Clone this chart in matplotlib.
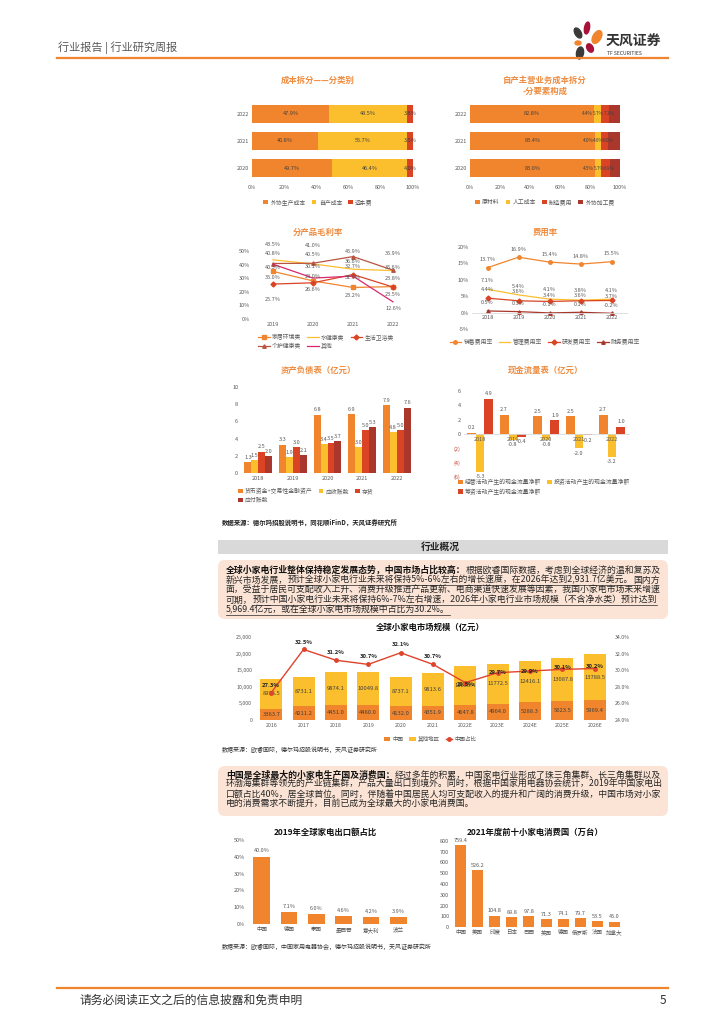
import matplotlib
matplotlib.use('Agg')
import matplotlib.pyplot as plt
from matplotlib.patches import Rectangle, FancyBboxPatch, Ellipse, Patch
from matplotlib.lines import Line2D
import numpy as np

plt.rcParams['font.family'] = ['Noto Sans CJK SC', 'DejaVu Sans']

# ---- data ----
cost_years = ['2022', '2021', '2020']
cost_outsourced = [47.9, 40.8, 49.7]
cost_self = [48.5, 55.7, 46.4]
cost_freight = [3.6, 3.5, 4.0]

elem_material = [82.8, 83.4, 83.0]
elem_labor = [4.4, 4.0, 4.5]
elem_manufacture = [5.7, 4.6, 5.7]
elem_outsource = [7.1, 8.0, 6.9]

margin_years = ['2019', '2020', '2021', '2022']
margin_home = [35.0, 28.0, 23.2, 23.8]
margin_water = [43.5, 40.5, 36.6, 35.6]
margin_bath = [25.7, 26.6, 32.7, 23.5]
margin_care = [40.8, 41.0, 45.9, 35.9]
margin_other = [40.3, 30.1, 31.5, 12.6]

fee_years = ['2018', '2019', '2020', '2021', '2022']
fee_sales = [13.7, 16.9, 15.4, 14.8, 15.5]
fee_admin = [7.1, 5.4, 4.1, 3.8, 4.1]
fee_rd = [4.4, 3.6, 3.4, 3.6, 3.7]
fee_fin = [0.5, 0.3, -0.1, 0.1, -0.2]

bs_years = ['2018', '2019', '2020', '2021', '2022']
bs_cash = [1.3, 3.3, 6.8, 6.9, 7.9]
bs_recv = [1.5, 1.9, 3.4, 3.0, 4.8]
bs_inv = [2.5, 3.0, 3.5, 5.0, 5.0]
bs_pay = [2.0, 2.1, 3.7, 5.3, 7.6]

cf_years = ['2018', '2019', '2020', '2021', '2022']
cf_oper = [0.2, 2.7, 2.5, 2.5, 2.7]
cf_invest = [-5.3, -0.8, -0.8, -2.0, -3.2]
cf_fin = [4.9, -0.4, 1.9, -0.2, 1.0]

mkt_years = ['2016', '2017', '2018', '2019', '2020', '2021', '2022E', '2023E', '2024E', '2025E', '2026E']
mkt_china = [3363.7, 4211.2, 4451.0, 4460.0, 4132.0, 4351.9, 4647.8, 4964.0, 5288.3, 5623.5, 5969.4]
mkt_other = [8976.5, 8731.1, 9874.1, 10049.8, 8737.1, 9813.6, 11658.4, 11772.5, 12416.1, 13087.8, 13788.5]
mkt_share = [27.3, 32.5, 31.2, 30.7, 32.1, 30.7, 28.5, 29.7, 29.9, 30.1, 30.2]

export_countries = ['中国', '德国', '泰国', '墨西哥', '意大利', '波兰']
export_share = [40.0, 7.1, 6.0, 4.6, 4.2, 3.9]

consume_countries = ['中国', '美国', '印度', '日本', '巴西', '英国', '德国', '俄罗斯', '法国', '加拿大']
consume_units = [759.4, 526.2, 104.8, 89.8, 97.8, 71.3, 74.1, 79.7, 53.5, 45.0]

ORANGE = '#F0852D'
YELLOW = '#FBBF2E'
RED = '#DA4425'
DARK = '#A9372C'
BROWN = '#B8543F'
PINK = '#D8286E'
TITLE = '#EE8B3E'
GRAY = '#595959'
TXT = '#404040'

W, H = 724, 1024
fig = plt.figure(figsize=(7.24, 10.24), dpi=100)

bg = fig.add_axes([0, 0, 1, 1])
bg.set_xlim(0, W)
bg.set_ylim(H, 0)
bg.axis('off')
bg.set_zorder(-1)


def add_ax(l, t, r, b):
    ax = fig.add_axes([l / W, 1 - b / H, (r - l) / W, (b - t) / H])
    ax.set_facecolor('none')
    ax.tick_params(length=0, labelsize=4, labelcolor=GRAY, pad=2)
    for s in ax.spines.values():
        s.set_visible(False)
    return ax


def px(v):
    return v * 0.72


def legend_at(handles, labels, x, y, loc, ncol, size=4.2, hl=0.8):
    fig.legend(handles, labels, loc=loc, bbox_to_anchor=(x / W, 1 - y / H), ncol=ncol,
               frameon=False, fontsize=size, handlelength=hl, handleheight=0.7,
               columnspacing=1.0, handletextpad=0.4, borderpad=0, borderaxespad=0,
               labelspacing=0.5, labelcolor=GRAY)


def sq(c):
    return Patch(facecolor=c, edgecolor='none')


def ln(c, m):
    return Line2D([0], [0], color=c, lw=0.9, marker=m, markersize=2.5)


# ---- header / footer ----
bg.text(58, 48, '行业报告 | 行业研究周报', fontsize=8, color=GRAY, va='center')
bg.plot([57, 668], [57.5, 57.5], color=ORANGE, lw=1.6)
bg.add_patch(Ellipse((578, 33), 6, 11, angle=-30, color='#3A3A3A'))
bg.add_patch(Ellipse((587, 28), 5, 12, angle=10, color='#A8123A'))
bg.add_patch(Ellipse((597, 37), 8, 14, angle=30, color=ORANGE))
bg.add_patch(Ellipse((578, 43), 6, 4, angle=0, color=ORANGE))
bg.add_patch(Ellipse((580, 53), 7, 12, angle=10, color='#3A3A3A'))
bg.add_patch(Ellipse((590, 48), 6, 9, angle=-30, color='#A8123A'))
bg.text(606, 42, '天风证券', fontsize=10, fontweight='bold', color='#333333', va='center')
bg.text(607, 53.5, 'TF SECURITIES', fontsize=3.6, color='#333333', va='center')
bg.plot([57, 668], [988, 988], color=ORANGE, lw=1.6)
bg.text(80, 1000, '请务必阅读正文之后的信息披露和免责申明', fontsize=8.5, color='#333333', va='center')
bg.text(660, 1000, '5', fontsize=8.5, color='#333333', va='center')

# ---- chart 1: cost by category ----
bg.text(318, 80, '成本拆分——分类别', fontsize=6, fontweight='bold', color=TITLE, ha='center', va='center')
ax1 = add_ax(252, 100, 413, 182)
yy = np.array([2, 1, 0])
left = np.zeros(3)
for vals, c in [(cost_outsourced, ORANGE), (cost_self, YELLOW), (cost_freight, RED)]:
    ax1.barh(yy, vals, left=left, color=c, height=0.65)
    for y, v, l0 in zip(yy, vals, left):
        ax1.text(l0 + v / 2, y, f'{v:.1f}%', ha='center', va='center', fontsize=4, color=TXT)
    left = left + np.array(vals)
ax1.set_xlim(0, 100)
ax1.set_ylim(-0.5, 2.5)
ax1.set_yticks(yy)
ax1.set_yticklabels(cost_years)
ax1.set_xticks(range(0, 101, 20))
ax1.set_xticklabels([f'{v}%' for v in range(0, 101, 20)])
legend_at([sq(ORANGE), sq(YELLOW), sq(RED)], ['外协生产成本', '自产成本', '运杂费'], 318, 202, 'center', 3)

# ---- chart 2: cost by element ----
bg.text(545, 80, '自产主营业务成本拆分', fontsize=6, fontweight='bold', color=TITLE, ha='center', va='center')
bg.text(545, 91, '-分要素构成', fontsize=6, fontweight='bold', color=TITLE, ha='center', va='center')
ax2 = add_ax(470, 100, 620, 182)
left = np.zeros(3)
shifts2 = [0, -6.7, -4.4, -3.6]
for k, (vals, c) in enumerate([(elem_material, ORANGE), (elem_labor, YELLOW),
                               (elem_manufacture, RED), (elem_outsource, DARK)]):
    ax2.barh(yy, vals, left=left, color=c, height=0.65)
    for y, v, l0 in zip(yy, vals, left):
        ax2.text(l0 + v / 2 + shifts2[k], y, f'{v:.1f}%', ha='center', va='center',
                 fontsize=4 if k == 0 else 3.4, color=TXT)
    left = left + np.array(vals)
ax2.set_xlim(0, 100)
ax2.set_ylim(-0.5, 2.5)
ax2.set_yticks(yy)
ax2.set_yticklabels(cost_years)
ax2.set_xticks(range(0, 101, 20))
ax2.set_xticklabels([f'{v}%' for v in range(0, 101, 20)])
legend_at([sq(ORANGE), sq(YELLOW), sq(RED), sq(DARK)], ['原材料', '人工成本', '制造费用', '外协加工费'],
          545, 202, 'center', 4)

# ---- chart 3: gross margin ----
bg.text(318, 232, '分产品毛利率', fontsize=6, fontweight='bold', color=TITLE, ha='center', va='center')
ax3 = add_ax(253, 251, 413, 319)
xm = np.arange(len(margin_years))
series3 = [
    ('家居环境类', margin_home, ORANGE, 's', [-6, 4, -8, 8]),
    ('水健康类', margin_water, YELLOW, None, [15, 9, 8, 3]),
    ('生活卫浴类', margin_bath, RED, 'D', [-15, -7, 8, -7]),
    ('个护健康类', margin_care, BROWN, '^', [10, 18, 5, 17]),
    ('其他', margin_other, PINK, None, [-3, 12, -1, -7]),
]
handles3 = {}
for name, vals, c, m, offs in series3:
    ax3.plot(xm, vals, color=c, lw=0.9, marker=m, markersize=2.5)
    handles3[name] = ln(c, m)
    for x, v, o in zip(xm, vals, offs):
        ax3.annotate(f'{v:.1f}%', (x, v), xytext=(0, px(o)), textcoords='offset points',
                     ha='center', va='center', fontsize=4, color=GRAY)
ax3.set_xlim(-0.5, 3.5)
ax3.set_ylim(0, 50)
ax3.set_yticks(range(0, 51, 10))
ax3.set_yticklabels([f'{v}%' for v in range(0, 51, 10)])
ax3.set_xticks(xm)
ax3.set_xticklabels(margin_years)
ax3.axhline(0, color='#D9D9D9', lw=0.6)
order3 = ['家居环境类', '个护健康类', '水健康类', '其他', '生活卫浴类']
legend_at([handles3[k] for k in order3], order3, 258, 334, 'upper left', 3, hl=2)

# ---- chart 4: expense ratios ----
bg.text(545, 232, '费用率', fontsize=6, fontweight='bold', color=TITLE, ha='center', va='center')
ax4 = add_ax(472, 247, 627, 329)
xf = np.arange(len(fee_years))
series4 = [
    ('销售费用率', fee_sales, ORANGE, 'o', [8, 8, 8, 8, 8]),
    ('管理费用率', fee_admin, YELLOW, None, [9, 8, 9.5, 9.5, 8.5]),
    ('研发费用率', fee_rd, RED, 'D', [8.5, 9, 6, 5, 4]),
    ('财务费用率', fee_fin, DARK, '^', [8, 8, 8, 8, 8]),
]
h4 = []
for name, vals, c, m, offs in series4:
    ax4.plot(xf, vals, color=c, lw=0.9, marker=m, markersize=2.5)
    h4.append(ln(c, m))
    for x, v, o in zip(xf, vals, offs):
        ax4.annotate(f'{v:.1f}%', (x, v), xytext=(0, px(o)), textcoords='offset points',
                     ha='center', va='center', fontsize=4, color=GRAY)
ax4.set_xlim(-0.5, 4.5)
ax4.set_ylim(-5, 20)
ax4.set_yticks(range(-5, 21, 5))
ax4.set_yticklabels([f'{v}%' for v in range(-5, 21, 5)])
ax4.set_xticks(xf)
ax4.set_xticklabels(fee_years)
ax4.spines['bottom'].set_visible(True)
ax4.spines['bottom'].set_position(('data', 0))
ax4.spines['bottom'].set_color('#D9D9D9')
ax4.spines['bottom'].set_linewidth(0.6)
legend_at(h4, [s[0] for s in series4], 545, 342, 'center', 4, hl=2)

# ---- chart 5: balance sheet ----
bg.text(318, 370, '资产负债表（亿元）', fontsize=6, fontweight='bold', color=TITLE, ha='center', va='center')
ax5 = add_ax(241, 387, 414, 473)
xb = np.arange(len(bs_years))
bw = 0.2
for i, (vals, c) in enumerate([(bs_cash, ORANGE), (bs_recv, YELLOW), (bs_inv, RED), (bs_pay, DARK)]):
    xs = xb + (i - 1.5) * bw
    ax5.bar(xs, vals, width=bw, color=c)
    for x, v in zip(xs, vals):
        ax5.text(x, v + 0.25, f'{v:.1f}', ha='center', va='bottom', fontsize=4, color=GRAY)
ax5.set_xlim(-0.5, 4.5)
ax5.set_ylim(0, 10)
ax5.set_yticks(range(0, 11, 2))
ax5.set_xticks(xb)
ax5.set_xticklabels(bs_years)
ax5.axhline(0, color='#D9D9D9', lw=0.6)
legend_at([sq(ORANGE), sq(DARK), sq(YELLOW), sq(RED)], ['货币资金+交易性金融资产', '应付账款', '应收账款', '存货'],
          238, 488, 'upper left', 3)
bg.text(222, 522, '数据来源：德尔玛招股说明书，同花顺iFinD，天风证券研究所', fontsize=4.6,
        fontweight='bold', color='#222222', va='center')

# ---- chart 6: cash flow ----
bg.text(545, 370, '现金流量表（亿元）', fontsize=6, fontweight='bold', color=TITLE, ha='center', va='center')
ax6 = add_ax(463.5, 391, 628.5, 477)
xc = np.arange(len(cf_years))
cw = 0.27
for i, (vals, c) in enumerate([(cf_oper, ORANGE), (cf_invest, YELLOW), (cf_fin, RED)]):
    xs = xc + (i - 1) * cw
    ax6.bar(xs, vals, width=cw, color=c)
    for x, v in zip(xs, vals):
        if v >= 0:
            ax6.text(x, v + 0.35, f'{v:.1f}', ha='center', va='bottom', fontsize=4, color=GRAY)
        else:
            ax6.text(x, v - 0.35, f'{v:.1f}', ha='center', va='top', fontsize=4, color=GRAY)
ax6.set_xlim(-0.5, 4.5)
ax6.set_ylim(-6, 6)
ticks6 = list(range(-6, 7, 2))
ax6.set_yticks(ticks6)
ax6.set_yticklabels([f'({-t})' if t < 0 else f'{t}' for t in ticks6])
for t, lab in zip(ticks6, ax6.get_yticklabels()):
    if t < 0:
        lab.set_color('#C0392B')
ax6.set_xticks(xc)
ax6.set_xticklabels(cf_years)
ax6.spines['bottom'].set_visible(True)
ax6.spines['bottom'].set_position(('data', 0))
ax6.spines['bottom'].set_color('#D9D9D9')
ax6.spines['bottom'].set_linewidth(0.6)
legend_at([sq(ORANGE), sq(RED), sq(YELLOW)],
          ['经营活动产生的现金流量净额', '筹资活动产生的现金流量净额', '投资活动产生的现金流量净额'],
          458, 479, 'upper left', 2)

# ---- section header + text box 1 ----
bg.add_patch(Rectangle((218, 540), 450, 14, facecolor='#D9D9D9', edgecolor='none'))
bg.text(440, 547, '行业概况', fontsize=7, fontweight='bold', color='#222222', ha='center', va='center')


def rich_line(x, y, segs, size=6.4):
    r = fig.canvas.get_renderer()
    for txt, st in segs:
        t = bg.text(x, y, txt, fontsize=size, fontweight='bold' if st == 'b' else 'normal',
                    color='#111111' if st == 'b' else '#262626', va='center')
        bb = t.get_window_extent(r)
        if st == 'u':
            bg.plot([x, bb.x1], [y + 4.5, y + 4.5], color='#262626', lw=0.5)
        x = bb.x1


bg.add_patch(FancyBboxPatch((218, 560), 450, 59, boxstyle='round,pad=0,rounding_size=7',
                            facecolor='#FBE4D5', edgecolor='none'))
box1 = [
    [('全球小家电行业整体保持稳定发展态势，中国市场占比较高：', 'b'), ('根据欧睿国际数据，考虑到全球经济的温和复苏及', 'n')],
    [('新兴市场发展，', 'n'), ('预计全球小家电行业未来将保持5%-6%左右的增长速度，在2026年达到2,931.7亿美元。', 'u'), ('国内方', 'n')],
    [('面，受益于居民可支配收入上升、消费升级推进产品更新、电商渠道快速发展等因素，我国小家电市场未来增速', 'n')],
    [('可期，', 'n'), ('预计中国小家电行业未来将保持6%-7%左右增速，2026年小家电行业市场规模（不含净水类）预计达到', 'u')],
    [('5,969.4亿元，或在全球小家电市场规模中占比为30.2%。', 'u')],
]
for i, segs in enumerate(box1):
    rich_line(226, 570 + i * 10, segs)

# ---- chart 7: global market ----
bg.text(430, 627, '全球小家电市场规模（亿元）', fontsize=6, fontweight='bold', color='#111111', ha='center', va='center')
ax7 = add_ax(255, 637, 611, 720)
xk = np.arange(len(mkt_years))
ax7.bar(xk, mkt_china, width=0.68, color=ORANGE)
ax7.bar(xk, mkt_other, bottom=mkt_china, width=0.68, color=YELLOW)
for x, a, b in zip(xk, mkt_china, mkt_other):
    ax7.text(x, a / 2, f'{a:.1f}', ha='center', va='center', fontsize=4.2, color=TXT)
    ax7.text(x, a + b / 2, f'{b:.1f}', ha='center', va='center', fontsize=4.2, color=TXT)
ax7.set_xlim(-0.5, len(mkt_years) - 0.5)
ax7.set_ylim(0, 25000)
ax7.set_yticks(range(0, 25001, 5000))
ax7.set_yticklabels([f'{v:,}' for v in range(0, 25001, 5000)])
ax7.set_xticks(xk)
ax7.set_xticklabels(mkt_years)
ax7.tick_params(labelsize=3.8)
ax7.axhline(0, color='#D9D9D9', lw=0.6)
ax7b = ax7.twinx()
for s in ax7b.spines.values():
    s.set_visible(False)
ax7b.tick_params(length=0, labelsize=3.8, labelcolor=GRAY, pad=3)
ax7b.plot(xk, mkt_share, color='#E0432B', lw=1.0, marker='o', markersize=2.5)
share_offs = [7, 7, 8, 8, 8, 8, -2, 0, 0, 2, 2]
for x, v, o in zip(xk, mkt_share, share_offs):
    ax7b.annotate(f'{v:.1f}%', (x, v), xytext=(0, px(o)), textcoords='offset points',
                  ha='center', va='center', fontsize=4.2, fontweight='bold', color='#222222')
ax7b.set_ylim(24, 34)
ax7b.set_yticks(range(24, 35, 2))
ax7b.set_yticklabels([f'{v:.1f}%' for v in range(24, 35, 2)])
legend_at([sq(ORANGE), sq(YELLOW), Line2D([0], [0], color='#E0432B', lw=1, marker='o', markersize=2.5)],
          ['中国', '其他地区', '中国占比'], 430, 739, 'center', 3, size=4, hl=1.2)
bg.text(222, 750, '数据来源：欧睿国际，德尔玛招股说明书，天风证券研究所', fontsize=4.3, color='#333333', va='center')

# ---- text box 2 ----
bg.add_patch(FancyBboxPatch((218, 766), 450, 50, boxstyle='round,pad=0,rounding_size=7',
                            facecolor='#FBE4D5', edgecolor='none'))
box2 = [
    [('中国是全球最大的小家电生产国及消费国：', 'b'), ('经过多年的积累，中国家电行业形成了珠三角集群、长三角集群以及', 'n')],
    [('环渤海集群等领先的产业链集群，产品大量出口到境外。同时，根据中国家用电器协会统计，2019年中国家电出', 'n')],
    [('口额占比40%，居全球首位。同时，伴随着中国居民人均可支配收入的提升和广阔的消费升级，中国市场对小家', 'n')],
    [('电的消费需求不断提升，目前已成为全球最大的小家电消费国。', 'n')],
]
for i, segs in enumerate(box2):
    rich_line(226, 775 + i * 9.6, segs)

# ---- chart 8: export share ----
bg.text(325, 832, '2019年全球家电出口额占比', fontsize=6, fontweight='bold', color='#111111', ha='center', va='center')
ax8 = add_ax(248, 840, 412, 924)
xe = np.arange(len(export_countries))
ax8.bar(xe, export_share, width=0.6, color=ORANGE)
for x, v in zip(xe, export_share):
    ax8.text(x, v + 2, f'{v:.1f}%', ha='center', va='bottom', fontsize=4, color=GRAY)
ax8.set_xlim(-0.5, len(xe) - 0.5)
ax8.set_ylim(0, 50)
ax8.set_yticks(range(0, 51, 10))
ax8.set_yticklabels([f'{v}%' for v in range(0, 51, 10)])
ax8.set_xticks(xe)
ax8.set_xticklabels(export_countries)
ax8.axhline(0, color='#D9D9D9', lw=0.6)
bg.text(222, 947, '数据来源：欧睿国际，中国家用电器协会，德尔玛招股说明书，天风证券研究所', fontsize=4.3,
        color='#333333', va='center')

# ---- chart 9: top 10 consumers ----
bg.text(535, 832, '2021年度前十小家电消费国（万台）', fontsize=6, fontweight='bold', color='#111111', ha='center', va='center')
ax9 = add_ax(452, 841, 623, 927)
xn = np.arange(len(consume_countries))
ax9.bar(xn, consume_units, width=0.64, color=ORANGE)
for x, v in zip(xn, consume_units):
    ax9.text(x, v + 25, f'{v:.1f}', ha='center', va='bottom', fontsize=4, color=GRAY)
ax9.set_xlim(-0.5, len(xn) - 0.5)
ax9.set_ylim(0, 800)
ax9.set_yticks(range(0, 801, 100))
ax9.set_xticks(xn)
ax9.set_xticklabels(consume_countries)
ax9.axhline(0, color='#D9D9D9', lw=0.6)

fig.savefig('out.png', dpi=100)
